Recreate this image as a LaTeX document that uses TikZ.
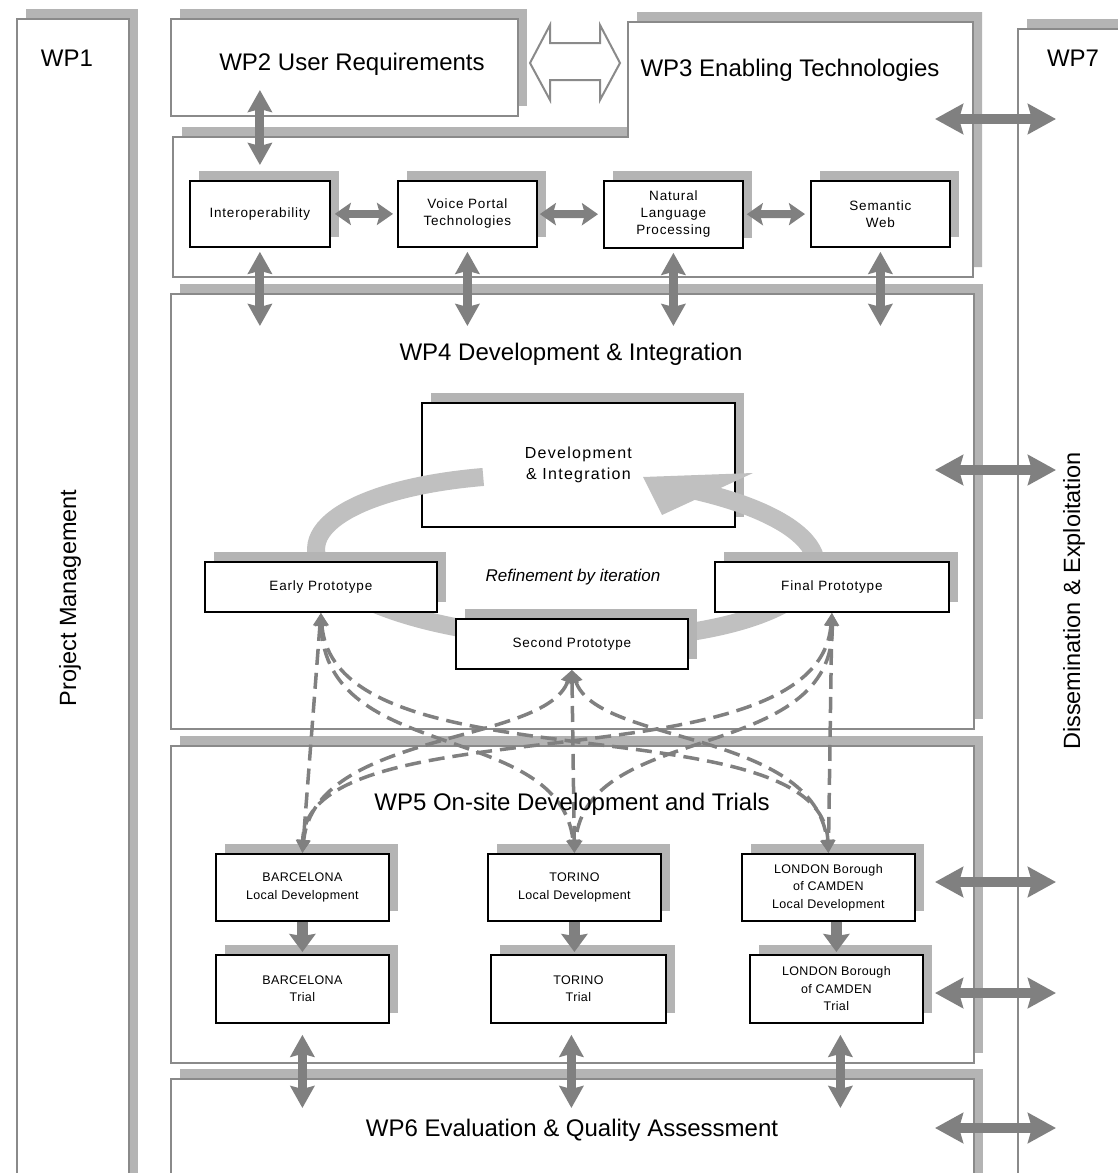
\documentclass[tikz,border=0pt]{standalone}
\usepackage{fontspec}
\setmainfont{Liberation Sans}
\newfontfamily\boxfont[LetterSpace=6]{Liberation Sans}
\newfontfamily\devfont[LetterSpace=8]{Liberation Sans}
\newfontfamily\sitefont[LetterSpace=3]{Liberation Sans}
\usetikzlibrary{arrows.meta,shadows,calc}

\definecolor{framegray}{HTML}{8A8A8A}
\definecolor{arrowgray}{HTML}{808080}
\definecolor{ringgray}{HTML}{C0C0C0}
\definecolor{shadowgray}{HTML}{B4B4B4}

\tikzset{
  boxshadow/.style={drop shadow={shadow xshift=9pt,shadow yshift=10pt,fill=shadowgray,opacity=1}},
  wpframe/.style={draw=framegray,line width=2pt,fill=white,anchor=north west,inner sep=0pt,boxshadow},
  wplabel/.style={inner sep=0pt,font=\fontsize{24}{28}\selectfont},
  sidelabel/.style={inner sep=0pt,rotate=90,font=\fontsize{23.5}{28}\selectfont},
  techbox/.style={draw=black,line width=1.8pt,fill=white,anchor=north west,inner sep=0pt,
    align=center,boxshadow,font=\boxfont\fontsize{13.5}{17}\selectfont},
  devbox/.style={techbox,font=\devfont\fontsize{16}{21}\selectfont},
  sitebox/.style={techbox,font=\sitefont\fontsize{12.5}{17.5}\selectfont},
  hlink/.style={draw=arrowgray,line width=8pt,>={Stealth[length=16pt,width=22pt,inset=3pt]},<->},
  vlink/.style={draw=arrowgray,line width=9pt,>={Stealth[length=22pt,width=24pt,inset=3pt]},<->},
  wplink/.style={draw=arrowgray,line width=10pt,>={Stealth[length=28pt,width=30pt,inset=4pt]},<->},
  droparrow/.style={draw=arrowgray,line width=11pt,>={Stealth[length=18pt,width=26pt,inset=2pt]},->},
  dashlink/.style={draw=arrowgray,line width=3.5pt,dash pattern=on 16pt off 8pt,
    >={Triangle[length=13pt,width=13pt]},<->},
}

\begin{document}
\begin{tikzpicture}[x=1pt,y=-1pt]
\useasboundingbox (0,0) rectangle (1118,1173);
\clip (0,0) rectangle (1118,1173);
\fill[white] (0,0) rectangle (1118,1173);

% work package frames
\node[wpframe,minimum width=112pt,minimum height=1220pt] (wp1) at (16,18) {};
\node[wpframe,minimum width=150pt,minimum height=1220pt] (wp7) at (1017,28) {};
\node[wpframe,minimum width=347pt,minimum height=97pt] (wp2) at (170,18) {};
\begin{scope}[shift={(9,-10)}]
  \fill[shadowgray] (628,22) -- (973,22) -- (973,277) -- (173,277) -- (173,137) -- (628,137) -- cycle;
\end{scope}
\draw[draw=framegray,line width=2pt,fill=white]
  (628,22) -- (973,22) -- (973,277) -- (173,277) -- (173,137) -- (628,137) -- cycle;
\node[wpframe,minimum width=803pt,minimum height=435pt] (wp4) at (170,293) {};
\node[wpframe,minimum width=803pt,minimum height=317pt] (wp5) at (170,745) {};
\node[wpframe,minimum width=803pt,minimum height=160pt] (wp6) at (170,1078) {};

% hollow double arrow between WP2 and WP3
\draw[draw=framegray,line width=2pt,fill=white]
  (530,63) -- (550,25) -- (550,43) -- (600,43) -- (600,25) -- (620,63)
  -- (600,100) -- (600,80) -- (550,80) -- (550,100) -- cycle;

% frame titles
\node[wplabel] (wp1label) at (67,58) {WP1};
\node[wplabel] (wp7label) at (1073,58) {WP7};
\node[sidelabel] (pmlabel) at (70,598) {Project Management};
\node[sidelabel] (delabel) at (1074,601) {Dissemination \& Exploitation};
\node[wplabel] (wp2label) at (352,64) {WP2 User Requirements};
\node[wplabel] (wp3label) at (790,70) {WP3 Enabling Technologies};
\node[wplabel] (wp4label) at (571,354) {WP4 Development \& Integration};
\node[wplabel] (wp6label) at (572,1130) {WP6 Evaluation \& Quality Assessment};

% enabling technologies
\node[techbox,minimum width=140pt,minimum height=66pt] (inter) at (189,180) {Interoperability};
\node[techbox,minimum width=139pt,minimum height=66pt] (voice) at (397,180) {Voice Portal\\Technologies};
\node[techbox,minimum width=139pt,minimum height=67pt] (nlp) at (603,180) {Natural\\Language\\Processing};
\node[techbox,minimum width=139pt,minimum height=66pt] (sem) at (810,180) {Semantic\\Web};

% development and integration cycle
\node[devbox,minimum width=313pt,minimum height=124pt] (dev) at (421,402) {Development\\\& Integration};
\begin{scope}[shift={(566,557)},rotate=-2]
  \draw[ringgray,line width=18pt] (-85.5,-77.1) arc[start angle=250,end angle=-60,x radius=250,y radius=82];
\end{scope}
\fill[ringgray] (643,477) -- (753,473) -- (662,515) -- cycle;
\node[techbox,minimum width=232pt,minimum height=50pt] (early) at (204,561) {Early Prototype};
\node[techbox,minimum width=234pt,minimum height=50pt] (final) at (714,561) {Final Prototype};
\node[techbox,minimum width=232pt,minimum height=50pt] (second) at (455,618) {Second Prototype};
\node[inner sep=0pt,font=\itshape\fontsize{17}{20}\selectfont] (iterlabel) at (573,577) {Refinement by iteration};

% local sites
\node[sitebox,minimum width=173pt,minimum height=67pt] (bcnd) at (215,853) {BARCELONA\\Local Development};
\node[sitebox,minimum width=173pt,minimum height=67pt] (tord) at (487,853) {TORINO\\Local Development};
\node[sitebox,minimum width=173pt,minimum height=67pt] (lond) at (741,853) {LONDON Borough\\of CAMDEN\\Local Development};
\node[sitebox,minimum width=173pt,minimum height=68pt] (bcnt) at (215,954) {BARCELONA\\Trial};
\node[sitebox,minimum width=175pt,minimum height=68pt] (tort) at (490,954) {TORINO\\Trial};
\node[sitebox,minimum width=173pt,minimum height=68pt] (lont) at (749,954) {LONDON Borough\\of CAMDEN\\Trial};

% prototypes deployed to every site
\draw[dashlink] (early.south) -- (bcnd.north);
\draw[dashlink] (early.south) .. controls (325,765) and (560,720) .. (tord.north);
\draw[dashlink] (early.south) .. controls (335,790) and (822,700) .. (lond.north);
\draw[dashlink] (final.south) -- (lond.north);
\draw[dashlink] (final.south) .. controls (836,765) and (587,720) .. (tord.north);
\draw[dashlink] (final.south) .. controls (818,790) and (306,700) .. (bcnd.north);
\draw[dashlink] (second.south) -- (tord.north);
\draw[dashlink] (second.south) .. controls (545,745) and (315,730) .. (bcnd.north);
\draw[dashlink] (second.south) .. controls (597,745) and (815,730) .. (lond.north);
\node[wplabel] (wp5label) at (572,804) {WP5 On-site Development and Trials};

% links inside WP3 and towards WP2 / WP4
\draw[hlink,shorten <=4pt,shorten >=4pt] (inter) -- (voice);
\draw[hlink,shorten <=2pt,shorten >=5pt] (voice) -- (nlp);
\draw[hlink,shorten <=3pt,shorten >=5pt] (nlp) -- (sem);
\draw[vlink,shorten >=15pt] ($(inter.north |- wp2.south)+(0,-27)$) -- (inter.north);
\draw[vlink,shorten <=4pt] (inter.south) -- ($(inter.south |- wp4.north)+(0,33)$);
\draw[vlink,shorten <=4pt] (voice.south) -- ($(voice.south |- wp4.north)+(0,33)$);
\draw[vlink,shorten <=4pt] (nlp.south) -- ($(nlp.south |- wp4.north)+(0,33)$);
\draw[vlink,shorten <=4pt] (sem.south) -- ($(sem.south |- wp4.north)+(0,33)$);

% local development feeds the trials
\draw[droparrow,shorten >=2pt] (bcnd.south) -- (bcnt.north);
\draw[droparrow,shorten >=2pt] (tord.south) -- (tord.south |- tort.north);
\draw[droparrow,shorten >=2pt] (lont.north |- lond.south) -- (lont.north);

% trials to evaluation
\draw[vlink] ($(bcnt.south)+(0,11)$) -- ($(bcnt.south |- wp6.north)+(0,30)$);
\draw[vlink] ($(tort.south)+(-7,11)$) -- ($(tort.south |- wp6.north)+(-7,30)$);
\draw[vlink] ($(lont.south)+(4,11)$) -- ($(lont.south |- wp6.north)+(4,30)$);

% exchanges with dissemination
\coordinate (d3a) at (935,119);  \coordinate (d3b) at (1056,119);
\coordinate (d4a) at (935,470);  \coordinate (d4b) at (1056,470);
\coordinate (d5a) at (935,882);  \coordinate (d5b) at (1056,882);
\coordinate (d5c) at (935,993);  \coordinate (d5d) at (1056,993);
\coordinate (d6a) at (935,1128); \coordinate (d6b) at (1056,1128);
\draw[wplink] (d3a) -- (d3b);
\draw[wplink] (d4a) -- (d4b);
\draw[wplink] (d5a) -- (d5b);
\draw[wplink] (d5c) -- (d5d);
\draw[wplink] (d6a) -- (d6b);
\end{tikzpicture}
\end{document}
